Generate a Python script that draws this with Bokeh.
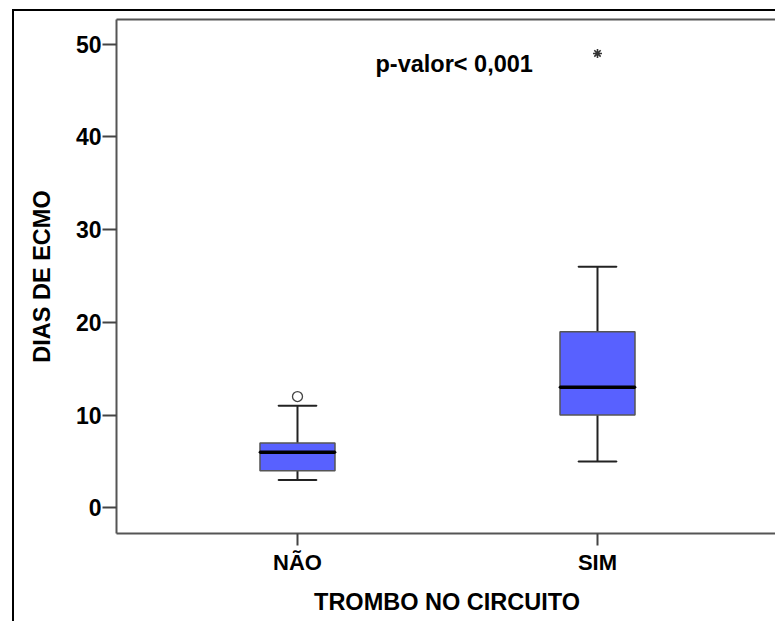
from bokeh.plotting import figure
from bokeh.models import Range1d, FixedTicker, LinearAxis, ColumnDataSource, Label
from bokeh.embed import file_html
from bokeh.resources import INLINE

# ---- data ----
categories = ["NÃO", "SIM"]
q1 = [4, 10]
median = [6, 13]
q3 = [7, 19]
whisker_low = [3, 5]
whisker_high = [11, 26]
outlier_cat = ["NÃO"]
outlier_val = [12]
extreme_cat = ["SIM"]
extreme_val = [49]
y_ticks = [0, 10, 20, 30, 40, 50]
x_title = "TROMBO NO CIRCUITO"
y_title = "DIAS DE ECMO"
annotation = "p-valor< 0,001"

FONT = "Liberation Sans"
pos = {c: i + 1 for i, c in enumerate(categories)}
xs = [pos[c] for c in categories]

src = ColumnDataSource(dict(x=xs, q1=q1, med=median, q3=q3, lo=whisker_low, hi=whisker_high))

p = figure(width=763, height=612, output_backend="svg", toolbar_location=None,
           x_range=Range1d(0.3967, 2.6), y_range=Range1d(-2.77, 52.66),
           min_border_left=102, min_border_top=8, min_border_bottom=90, min_border_right=0)
p.styles = {"border-top": "2px solid black", "border-left": "2px solid black",
            "margin-left": "12px", "margin-top": "9px", "overflow": "hidden"}
p.outline_line_color = None
p.grid.visible = False
p.background_fill_color = "white"
p.border_fill_color = "white"

AX = "#555555"
for ax in (p.xaxis[0], p.yaxis[0]):
    ax.axis_line_color = AX
    ax.axis_line_width = 2
    ax.major_tick_line_color = "#444444"
    ax.major_tick_line_width = 2
    ax.major_tick_out = 14
    ax.major_tick_in = 0
    ax.minor_tick_line_color = None
    ax.major_label_text_font = FONT
    ax.major_label_text_font_style = "bold"
    ax.major_label_text_font_size = "22px"
    ax.major_label_text_color = "black"
    ax.axis_label_text_font = FONT
    ax.axis_label_text_font_style = "bold"
    ax.axis_label_text_font_size = "23.5px"
    ax.axis_label_text_color = "black"

p.yaxis.ticker = FixedTicker(ticks=y_ticks)
p.yaxis.major_label_standoff = 1
p.yaxis.major_label_text_font_size = "23px"
p.yaxis.axis_label = y_title
p.yaxis.axis_label_standoff = 18

p.xaxis.ticker = FixedTicker(ticks=xs)
p.xaxis.major_tick_out = 12
p.xaxis.major_label_overrides = {pos[c]: c for c in categories}
p.xaxis.major_label_standoff = 4
p.xaxis.axis_label = x_title
p.xaxis.axis_label_standoff = 11

top_axis = LinearAxis(ticker=FixedTicker(ticks=[]), axis_line_color=AX, axis_line_width=2,
                      major_label_text_font_size="0px", minor_tick_line_color=None,
                      major_tick_line_color=None)
p.add_layout(top_axis, "above")
p.min_border_top = 8

# whiskers
p.segment(x0="x", y0="q3", x1="x", y1="hi", source=src, line_color="#222222", line_width=2)
p.segment(x0="x", y0="lo", x1="x", y1="q1", source=src, line_color="#222222", line_width=2)
cap = 0.127
p.rect(x="x", y="hi", width=cap, height=0.0001, source=src, line_color="#222222", line_width=2, fill_alpha=0)
p.rect(x="x", y="lo", width=cap, height=0.0001, source=src, line_color="#222222", line_width=2, fill_alpha=0)
# boxes
p.vbar(x="x", bottom="q1", top="q3", width=0.25, source=src, fill_color="#5861FF",
       line_color="#555555", line_width=1.5)
p.rect(x="x", y="med", width=0.25, height=0.0001, source=src, line_color="black", line_width=3.5, fill_alpha=0)

# outliers / extremes
p.scatter(x=[pos[c] for c in outlier_cat], y=outlier_val, marker="circle", size=10,
          fill_color="white", line_color="#444444", line_width=1.3)
p.scatter(x=[pos[c] for c in extreme_cat], y=extreme_val, marker="asterisk", size=9,
          line_color="#333333", line_width=1.6)

p.add_layout(Label(x=1.26, y=46.5, text=annotation, text_font=FONT, text_font_style="bold",
                   text_font_size="23.5px", text_color="black"))

open("out.html", "w").write(file_html(p, INLINE))
